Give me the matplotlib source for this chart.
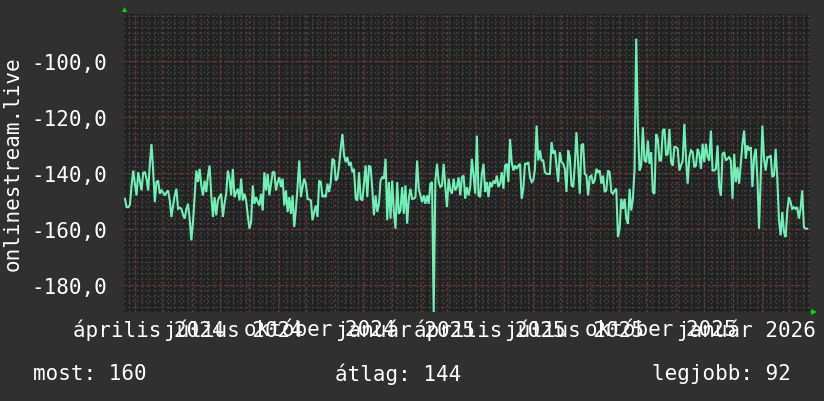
import matplotlib
matplotlib.use("Agg")
import matplotlib.pyplot as plt
from matplotlib.patches import Polygon
import numpy as np
import pandas as pd

# ---------------- data ----------------
seg1 = [-149.3, -152.3, -152.3, -151.5, -144.5, -139.2, -144.0, -148.1, -139.8, -143.0,
        -146.3, -140.0, -139.8, -142.1, -146.3, -136.8, -129.7, -139.2, -150.5, -143.3,
        -142.8, -147.5, -146.3, -147.0, -148.1, -147.0, -146.3, -149.9, -155.8, -151.7,
        -148.0, -145.7, -152.9, -152.5, -152.9, -155.0, -156.4, -153.0, -151.1, -156.4,
        -164.2, -157.6, -148.1, -139.2, -143.3, -138.6, -144.5, -148.1, -142.8, -146.9,
        -141.0, -137.4, -148.1, -155.8, -148.7, -155.2, -149.9, -148.5, -147.5, -155.8,
        -151.0, -147.5, -139.2, -142.1, -148.1, -138.6, -148.7, -147.0, -145.7, -149.9,
        -142.1, -149.9, -147.5, -149.9, -155.2, -160.0, -157.6, -144.5, -151.1, -148.7,
        -150.5, -151.7, -147.5, -153.5, -139.8, -146.3, -140.4, -148.1, -144.0, -139.8,
        -139.8, -146.3, -143.3, -141.6, -145.1, -142.1, -151.7, -146.3, -154.0, -148.7,
        -154.7, -148.1, -159.4, -152.9, -145.1, -135.6, -148.7, -145.1, -142.1, -144.0,
        -149.3, -149.5, -149.9, -157.0, -154.0, -151.7]
seg2 = [-155.8, -142.8, -143.3, -148.7, -148.1, -148.7, -143.9, -146.9, -143.3, -135.0,
        -135.6, -142.8, -142.1, -137.4, -131.4, -126.1, -133.8, -136.2, -134.4, -137.4,
        -136.2, -139.8, -138.6, -149.3, -149.9, -139.8, -149.3, -149.9, -143.9, -137.4,
        -148.7, -137.4, -138.0, -145.7, -155.2, -148.1, -154.0, -151.1, -142.8, -141.6,
        -142.1, -135.0, -157.0, -143.3, -156.4, -142.8, -154.0, -160.0, -143.3, -154.7,
        -153.5, -145.1, -154.7, -144.5, -158.2, -149.3, -145.7, -149.3, -149.3, -148.7,
        -135.6, -145.7, -148.1, -150.5, -148.1, -151.1, -148.1, -151.1, -143.9, -143.3,
        -190.0, -142.8, -136.8, -143.3, -145.1, -144.5, -136.8, -145.1, -152.3, -142.1,
        -146.3, -147.5, -142.1, -146.3, -145.1, -141.6, -148.1, -141.6, -141.0, -149.3,
        -145.1, -148.1, -145.1, -135.0, -141.0, -147.5, -126.7, -148.1, -148.7, -140.4,
        -136.8, -146.9, -143.3, -148.7, -143.3, -145.1, -142.8, -143.9, -141.0, -145.1,
        -143.9, -139.8, -145.7, -137.4, -136.8, -143.3, -127.9, -136.2, -139.2, -137.4,
        -138.6]
seg3 = [-137.4, -136.8, -149.3, -145.7, -136.8, -136.8, -136.2, -141.5, -143.3, -142.7,
        -138.6, -123.1, -135.6, -132.0, -135.6, -135.6, -139.8, -140.4, -140.4, -140.4,
        -129.0, -133.2, -132.0, -137.4, -143.3, -132.6, -136.2, -136.8, -138.6, -146.9,
        -132.0, -134.4, -144.5, -145.1, -137.4, -125.5, -136.2, -147.5, -130.2, -129.6,
        -140.4, -141.0, -148.1, -141.5, -141.0, -143.9, -142.7, -138.6, -139.8, -139.2,
        -143.9, -141.0, -146.9, -146.3, -139.2, -139.8, -146.9, -147.5, -146.3, -145.7,
        -163.0, -160.0, -149.3, -152.9, -149.3, -156.4, -158.2, -145.7, -153.5, -149.3,
        -138.6, -92.0, -123.1, -139.2, -137.4, -123.7, -135.6, -136.2, -128.5, -136.8,
        -132.6, -146.9, -147.5, -126.1, -127.9, -135.6, -135.6, -124.9, -124.3, -133.8,
        -133.2, -124.3, -136.2, -137.4, -130.8, -130.8, -131.4, -139.2]
seg4 = [-137.4, -135.6, -122.5, -135.0, -143.9, -134.4, -132.0, -132.6, -138.0, -137.4,
        -131.4, -133.2, -138.6, -129.6, -136.2, -129.6, -134.4, -135.6, -124.9, -139.2,
        -139.2, -138.6, -130.2, -145.1, -148.1, -133.2, -132.6, -135.6, -135.0, -134.4,
        -135.6, -149.3, -133.2, -143.3, -138.0, -143.9, -136.8, -129.6, -124.9, -135.0,
        -130.2, -132.0, -130.8, -145.1, -134.4, -131.4, -142.1, -160.0, -142.1, -123.1,
        -135.0, -139.2, -134.4, -134.4, -133.8, -141.5, -140.9, -131.4, -142.1, -157.0,
        -162.4, -154.0, -161.2, -163.0, -153.5, -148.7, -150.5, -152.9, -152.3, -152.9,
        -152.3, -156.4, -152.9, -146.3, -159.4, -160.0, -160.0]
values = seg1 + seg2 + seg3 + seg4

data_start, data_end = "2024-03-21", "2026-03-21"
view_start, view_end = "2024-03-20", "2026-03-24"
y_bottom, y_top = -189.8, -83.2
ytick_values = [-180, -160, -140, -120, -100]
xtick_dates = ["2024-04-15", "2024-07-15", "2024-10-15", "2025-01-15",
               "2025-04-15", "2025-07-15", "2025-10-15", "2026-01-15"]
xtick_labels = ["április 2024", "július 2024", "október 2024", "január 2025",
                "április 2025", "július 2025", "október 2025", "január 2026"]
series_label = "onlinestream.live"
legend_items = [("most", "160"), ("átlag", "144"), ("legjobb", "92")]

# ---------------- style ----------------
W, H = 824, 402
BG = "#303030"
PLOT_BG = "#222222"
MINOR = "#4c4c4c"
MAJOR = "#6c3434"
LINE = "#70f0b4"
TXT = "#ffffff"
FONT = "DejaVu Sans Mono"
FS = 15

fig = plt.figure(figsize=(W / 100, H / 100), dpi=100, facecolor=BG)
ax = fig.add_axes([124 / W, (H - 313) / H, 686 / W, 298 / H])
ax.set_facecolor(PLOT_BG)
for s in ax.spines.values():
    s.set_visible(False)

dates = pd.date_range(data_start, data_end, periods=len(values))

# grid
for d in pd.date_range(view_start, view_end, freq="W-MON"):
    ax.axvline(d, color=MINOR, lw=1, ls=(0, (1, 2)), zorder=1)
for v in np.arange(-188, -82, 2):
    ax.axhline(v, color=MINOR, lw=1, ls=(0, (1, 2)), zorder=1)
for d in pd.date_range(view_start, view_end, freq="MS"):
    ax.axvline(d, color=MAJOR, lw=1, ls=(0, (2, 2)), zorder=2)
for v in ytick_values:
    ax.axhline(v, color=MAJOR, lw=1, ls=(0, (2, 2)), zorder=2)

ax.plot(dates, values, color=LINE, lw=1.5, zorder=3, solid_joinstyle="miter")

ax.set_xlim(pd.Timestamp(view_start), pd.Timestamp(view_end))
ax.set_ylim(y_bottom, y_top)

ax.set_yticks(ytick_values)
ax.set_yticklabels([f"{v:.1f}".replace(".", ",") for v in ytick_values],
                   fontfamily=FONT, fontsize=FS, color=TXT)
ax.set_xticks(pd.to_datetime(xtick_dates))
ax.set_xticklabels(xtick_labels, fontfamily=FONT, fontsize=FS, color=TXT)
ax.tick_params(axis="y", length=0, pad=12)
ax.tick_params(axis="x", length=0, pad=5)

fig.text(13 / W, 1 - 164 / H, series_label, rotation=90, ha="center", va="center",
         fontfamily=FONT, fontsize=FS, color=TXT)

legend_x = [33, 335, 652]
for (name, val), lx in zip(legend_items, legend_x):
    fig.text(lx / W, 1 - 374 / H, f"{name}: {val}", ha="left", va="center",
             fontfamily=FONT, fontsize=FS, color=TXT)

# rrdtool-style axis arrows
ARROW = "#00dd00"
up = [(122, 13), (127, 13), (124.5, 8)]
right = [(811, 310), (811, 316), (817, 313)]
for pts in (up, right):
    fig.add_artist(Polygon([(x / W, 1 - y / H) for x, y in pts], closed=True,
                           facecolor=ARROW, edgecolor="none",
                           transform=fig.transFigure))

fig.savefig("out.png", dpi=100, facecolor=BG)
